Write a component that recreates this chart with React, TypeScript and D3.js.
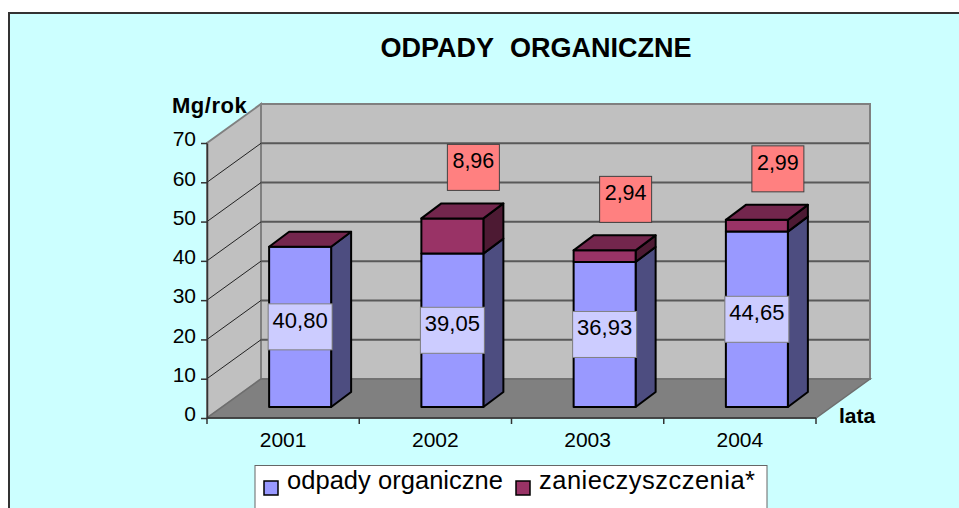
import React, { useEffect, useRef } from "react";
import * as d3 from "d3";

const years = ["2001", "2002", "2003", "2004"];
const organic = [40.8, 39.05, 36.93, 44.65];
const impurities = [0, 8.96, 2.94, 2.99];
const impurityLabels = ["", "8,96", "2,94", "2,99"];
const organicLabels = ["40,80", "39,05", "36,93", "44,65"];
const yTicks = [0, 10, 20, 30, 40, 50, 60, 70];
const legendNames = ["odpady organiczne", "zanieczyszczenia*"];

const FONT = "'Liberation Sans', Arial, sans-serif";

const App = () => {
  const svgRef = useRef<SVGSVGElement>(null);

  useEffect(() => {
    const svg = d3.select(svgRef.current);
    svg.selectAll("*").remove();

    // plot box, front plane
    const left = 207;
    const right = 816;
    const bottom = 418;
    const top = 143;
    // wall depth and bar depth
    const wallDx = 54;
    const wallDy = -39;
    const barDx = 20;
    const barDy = -15;
    const barLift = 11;
    const barWidth = 62;

    const x = d3.scaleBand().domain(years).range([left, right]);
    const y = d3.scaleLinear().domain([0, 70]).range([bottom, top]);

    const poly = (pts: number[][]) => pts.map((p) => p.join(",")).join(" ");

    // background frame
    svg
      .append("rect")
      .attr("x", 9)
      .attr("y", 13)
      .attr("width", 960)
      .attr("height", 510)
      .attr("fill", "#CCFFFF")
      .attr("stroke", "#333333")
      .attr("stroke-width", 2);

    // walls + floor
    svg
      .append("polygon")
      .attr("points", poly([[left + wallDx, y(70) + wallDy], [right + wallDx, y(70) + wallDy], [right + wallDx, y(0) + wallDy], [left + wallDx, y(0) + wallDy]]))
      .attr("fill", "#C0C0C0")
      .attr("stroke", "#808080")
      .attr("stroke-width", 2);
    svg
      .append("polygon")
      .attr("points", poly([[left, y(0)], [left, y(70)], [left + wallDx, y(70) + wallDy], [left + wallDx, y(0) + wallDy]]))
      .attr("fill", "#C0C0C0")
      .attr("stroke", "#808080")
      .attr("stroke-width", 2);
    svg
      .append("polygon")
      .attr("points", poly([[left, y(0)], [right, y(0)], [right + wallDx, y(0) + wallDy], [left + wallDx, y(0) + wallDy]]))
      .attr("fill", "#808080")
      .attr("stroke", "#6E6E6E")
      .attr("stroke-width", 1.5);

    // gridlines
    const grid = yTicks.filter((t) => t > 0 && t < 70);
    svg
      .selectAll(".grid-back")
      .data(grid)
      .enter()
      .append("line")
      .attr("x1", left + wallDx)
      .attr("x2", right + wallDx - 1)
      .attr("y1", (d) => y(d) + wallDy)
      .attr("y2", (d) => y(d) + wallDy)
      .attr("stroke", "#595959")
      .attr("stroke-width", 2);
    svg
      .selectAll(".grid-side")
      .data(grid)
      .enter()
      .append("line")
      .attr("x1", left)
      .attr("x2", left + wallDx)
      .attr("y1", (d) => y(d))
      .attr("y2", (d) => y(d) + wallDy)
      .attr("stroke", "#222222")
      .attr("stroke-width", 1);

    // axes
    const yAxis = d3
      .axisLeft(y)
      .tickValues(yTicks)
      .tickSize(6)
      .tickPadding(5)
      .tickSizeOuter(0);
    const gy = svg.append("g").attr("transform", `translate(${left},0)`).call(yAxis);
    gy.selectAll("text")
      .attr("font-size", 21)
      .attr("font-family", FONT)
      .attr("fill", "#000")
      .attr("transform", "translate(0,-4)");
    gy.selectAll("line, path").attr("stroke", "#333").attr("stroke-width", 1.5);

    const xAxis = d3.axisBottom(x).tickSize(0).tickPadding(14);
    const gx = svg.append("g").attr("transform", `translate(0,${bottom})`).call(xAxis);
    gx.select("path").remove();
    gx.selectAll("text").attr("font-size", 21).attr("font-family", FONT).attr("fill", "#000");
    svg
      .append("line")
      .attr("x1", left)
      .attr("x2", right)
      .attr("y1", bottom)
      .attr("y2", bottom)
      .attr("stroke", "#333")
      .attr("stroke-width", 1.5);
    svg
      .selectAll(".xtick")
      .data([...years.map((d) => x(d)!), right])
      .enter()
      .append("line")
      .attr("x1", (d) => d)
      .attr("x2", (d) => d)
      .attr("y1", bottom)
      .attr("y2", bottom + 6)
      .attr("stroke", "#333")
      .attr("stroke-width", 1.5);

    // stacked bars
    const rows = years.map((year, i) => ({ year, organic: organic[i], impurities: impurities[i] }));
    const stacked = d3.stack<any>().keys(["organic", "impurities"])(rows);
    const palette = [
      { front: "#9999FF", side: "#4D4D80", top: "#4D4D80" },
      { front: "#993366", side: "#4D1A33", top: "#73264D" },
    ];
    const barX = (year: string) => x(year)! + x.bandwidth() / 2 + 17 - barWidth / 2;
    stacked.forEach((series, s) => {
      series.forEach((d) => {
        const year = d.data.year;
        const x0 = barX(year);
        const x1 = x0 + barWidth;
        const y0 = y(d[0]) - barLift;
        const y1 = y(d[1]) - barLift;
        const g = svg.append("g").attr("stroke", "#000").attr("stroke-width", 2).attr("stroke-linejoin", "round");
        if (y0 - y1 > 0) {
          g.append("polygon")
            .attr("points", poly([[x1, y0], [x1 + barDx, y0 + barDy], [x1 + barDx, y1 + barDy], [x1, y1]]))
            .attr("fill", palette[s].side);
          g.append("rect")
            .attr("x", x0)
            .attr("y", y1)
            .attr("width", barWidth)
            .attr("height", y0 - y1)
            .attr("fill", palette[s].front);
        }
      });
    });
    // the cap is always the maroon one, 2001 has a zero segment on top
    rows.forEach((r) => {
      const x0 = barX(r.year);
      const x1 = x0 + barWidth;
      const yt = y(r.organic + r.impurities) - barLift;
      svg
        .append("polygon")
        .attr("points", poly([[x0, yt], [x1, yt], [x1 + barDx, yt + barDy], [x0 + barDx, yt + barDy]]))
        .attr("fill", palette[1].top)
        .attr("stroke", "#000")
        .attr("stroke-width", 2)
        .attr("stroke-linejoin", "round");
    });

    // data labels
    const addLabel = (cx: number, cy: number, w: number, text: string, fill: string, stroke: string, size: number) => {
      svg
        .append("rect")
        .attr("x", cx - w / 2)
        .attr("y", cy - 23)
        .attr("width", w)
        .attr("height", 46)
        .attr("fill", fill)
        .attr("stroke", stroke)
        .attr("stroke-width", 1);
      svg
        .append("text")
        .attr("x", cx)
        .attr("y", cy + 1)
        .attr("text-anchor", "middle")
        .attr("font-family", FONT)
        .attr("font-size", size)
        .text(text);
    };
    rows.forEach((r, i) => {
      const cx = barX(r.year) + barWidth / 2;
      addLabel(cx, y(r.organic / 2) - barLift, 64, organicLabels[i], "#CCCCFF", "#808080", 22);
      if (impurityLabels[i]) {
        const yt = y(r.organic + r.impurities) - barLift;
        addLabel(cx + 21, yt - 51, 52, impurityLabels[i], "#FF8080", "#404040", 21.5);
      }
    });

    // titles
    const addText = (tx: number, ty: number, text: string, size: number, weight: string, anchor: string) =>
      svg
        .append("text")
        .attr("x", tx)
        .attr("y", ty)
        .attr("font-family", FONT)
        .attr("font-size", size)
        .attr("font-weight", weight)
        .attr("text-anchor", anchor)
        .text(text);
    addText(536, 57, "ODPADY ORGANICZNE", 27, "bold", "middle").attr("word-spacing", 9);
    addText(172, 113, "Mg/rok", 22, "bold", "start").attr("letter-spacing", 0.5);
    addText(839, 423, "lata", 21, "bold", "start");

    // legend
    svg
      .append("rect")
      .attr("x", 255)
      .attr("y", 465.5)
      .attr("width", 512)
      .attr("height", 60)
      .attr("fill", "#FFFFFF")
      .attr("stroke", "#666666")
      .attr("stroke-width", 1);
    [264, 516].forEach((lx, i) => {
      svg
        .append("rect")
        .attr("x", lx)
        .attr("y", 481)
        .attr("width", 14)
        .attr("height", 14)
        .attr("fill", palette[i].front)
        .attr("stroke", "#000")
        .attr("stroke-width", 1.5);
      addText(lx + 23, 489, legendNames[i], 25.5, "normal", "start").attr("textLength", 216);
    });
  }, []);

  return (
    <svg
      ref={svgRef}
      width={959}
      height={508}
      style={{ position: "fixed", left: 0, top: 0, background: "#FFFFFF" }}
    />
  );
};

export default App;
